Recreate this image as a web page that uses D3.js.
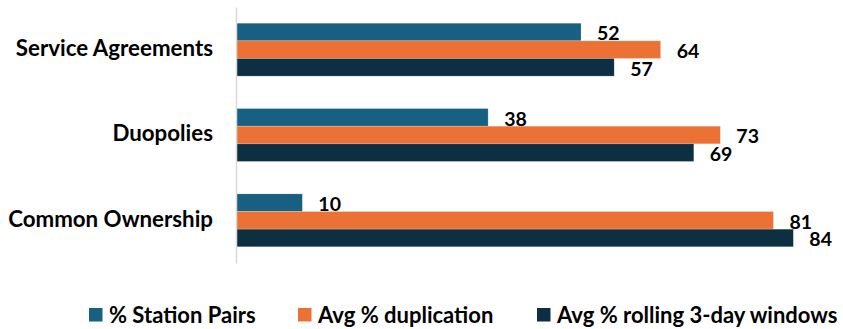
<!DOCTYPE html>
<html>
<head>
<meta charset="utf-8">
<script src="https://cdn.jsdelivr.net/npm/d3@7"></script>
<style>
  html, body { margin: 0; padding: 0; background: #fff; }
  svg { display: block; font-family: Lato, "Open Sans", sans-serif; font-weight: 700; }
</style>
</head>
<body>
<svg id="chart" width="843" height="329"></svg>
<script>
// Categories, top to bottom
const categories = ["Service Agreements", "Duopolies", "Common Ownership"];
// Series names and their values per category
const seriesNames = ["% Station Pairs", "Avg % duplication", "Avg % rolling 3-day windows"];
const stationPairs = [52, 38, 10];
const avgDuplication = [64, 73, 81];
const rollingWindows = [57, 69, 84];
const seriesColors = ["#176082", "#eb7234", "#0c2f42"];

const seriesValues = [stationPairs, avgDuplication, rollingWindows];
const rows = categories.map((c, i) => ({
  category: c,
  values: seriesNames.map((s, j) => ({ series: s, value: seriesValues[j][i] }))
}));

const svg = d3.select("#chart");
const axisX = 236;

const x = d3.scaleLinear().domain([0, 90]).range([axisX, axisX + 90 * 6.635]);
const y = d3.scaleBand().domain(categories).range([7, 263]).paddingInner(0.38).paddingOuter(0.19);
const ySub = d3.scaleBand().domain(seriesNames).range([0, y.bandwidth()]);
const color = d3.scaleOrdinal().domain(seriesNames).range(seriesColors);

// Bars
const groups = svg.append("g").selectAll("g")
  .data(rows).join("g")
  .attr("transform", d => `translate(0,${y(d.category)})`);

groups.selectAll("rect")
  .data(d => d.values).join("rect")
  .attr("x", x(0))
  .attr("y", d => ySub(d.series))
  .attr("width", d => x(d.value) - x(0))
  .attr("height", ySub.bandwidth())
  .attr("fill", d => color(d.series))
  .attr("stroke", "rgba(255,255,255,0.35)")
  .attr("stroke-width", 0.6);

// Value labels
groups.selectAll("text")
  .data(d => d.values).join("text")
  .attr("x", d => x(d.value) + 16)
  .attr("y", d => ySub(d.series) + ySub.bandwidth() / 2 + 1.3)
  .attr("dy", "0.36em")
  .attr("font-size", 19.5)
  .attr("fill", "#000")
  .text(d => d.value);

// Category axis
const yAxis = svg.append("g")
  .attr("transform", `translate(${axisX},0)`)
  .call(d3.axisLeft(y).tickSize(0).tickPadding(23));
yAxis.select(".domain").attr("stroke", "#d9d9d9").attr("stroke-width", 1.5);
yAxis.selectAll(".tick text")
  .attr("font-family", "Lato, sans-serif")
  .attr("font-weight", 700)
  .attr("font-size", 22.3)
  .attr("fill", "#000")
  .attr("dy", "0.28em");

// Legend
const legendX = [89, 298, 537];
const legend = svg.append("g").selectAll("g")
  .data(seriesNames).join("g")
  .attr("transform", (d, i) => `translate(${legendX[i]},308)`);
legend.append("rect")
  .attr("width", 13.5).attr("height", 13.5)
  .attr("fill", d => color(d));
legend.append("text")
  .attr("x", 20)
  .attr("y", 6.75)
  .attr("dy", "0.36em")
  .attr("font-size", 22)
  .attr("fill", "#000")
  .text(d => d);
</script>
</body>
</html>
